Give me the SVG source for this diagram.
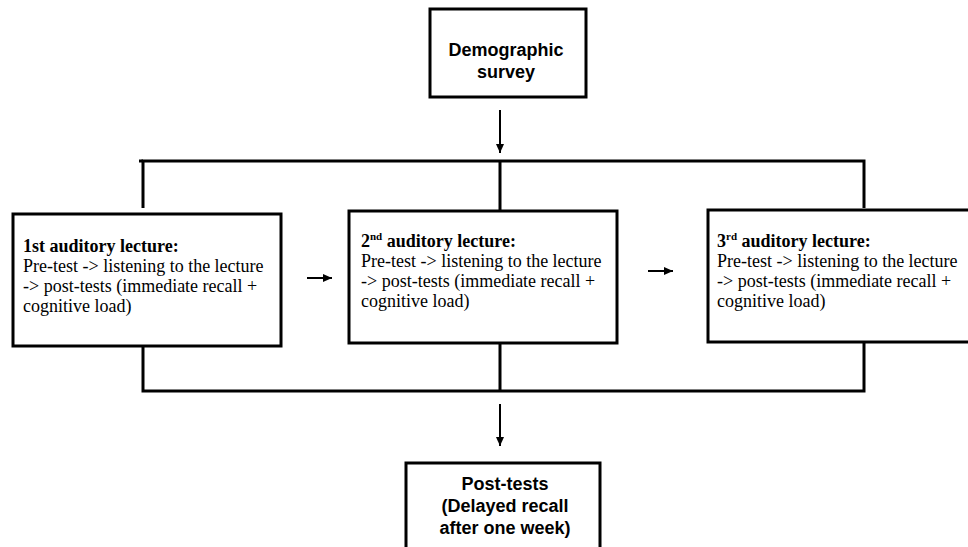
<svg xmlns="http://www.w3.org/2000/svg" width="968" height="547" viewBox="0 0 968 547">
<style>
.box{fill:#fff;stroke:#000;stroke-width:3}
.ln{stroke:#000;stroke-width:3;fill:none}
.ar{stroke:#000;stroke-width:2;fill:none}
.hd{font-family:"Liberation Sans",Arial,sans-serif;font-weight:bold;font-size:18px;fill:#000;text-anchor:middle}
.tm{font-family:"Liberation Serif","Times New Roman",serif;font-size:18px;fill:#000}
.b{font-weight:bold}
.sup{font-size:11px;font-weight:bold}
</style>
<defs>
<marker id="ah" markerWidth="10" markerHeight="10" refX="9" refY="5" orient="auto" markerUnits="userSpaceOnUse">
<path d="M0,1 L9,5 L0,9 Z" fill="#000"/>
</marker>
</defs>
<rect width="968" height="547" fill="#fff"/>
<g id="connectors">
<line class="ar" x1="500" y1="110" x2="500" y2="153" marker-end="url(#ah)"/>
<polyline class="ln" points="143,208 143,161 864,161 864,208"/>
<line class="ln" x1="139" y1="161" x2="143" y2="161"/>
<line class="ln" x1="500" y1="161" x2="500" y2="211"/>
<polyline class="ln" points="143,346 143,391 864,391 864,342"/>
<line class="ln" x1="500" y1="343" x2="500" y2="391"/>
<line class="ar" x1="500" y1="404" x2="500" y2="446" marker-end="url(#ah)"/>
<line class="ar" x1="307" y1="278" x2="332" y2="278" marker-end="url(#ah)"/>
<line class="ar" x1="648" y1="271" x2="673" y2="271" marker-end="url(#ah)"/>
</g>
<g id="demographic">
<rect class="box" x="430" y="9" width="156" height="88"/>
<text class="hd" x="506" y="56">Demographic</text>
<text class="hd" x="506" y="78">survey</text>
</g>
<g id="lecture1">
<rect class="box" x="13" y="214" width="268" height="132"/>
<text class="tm" x="23" y="252"><tspan class="b">1st auditory lecture:</tspan><tspan x="23" y="272">Pre-test -&gt; listening to the lecture</tspan><tspan x="23" y="292">-&gt; post-tests (immediate recall +</tspan><tspan x="23" y="312">cognitive load)</tspan></text>
</g>
<g id="lecture2">
<rect class="box" x="349" y="211" width="268" height="132"/>
<text class="tm" x="361" y="247"><tspan class="b">2</tspan><tspan class="sup" dy="-7">nd</tspan><tspan class="b" dy="7"> auditory lecture:</tspan><tspan x="361" y="267">Pre-test -&gt; listening to the lecture</tspan><tspan x="361" y="287">-&gt; post-tests (immediate recall +</tspan><tspan x="361" y="307">cognitive load)</tspan></text>
</g>
<g id="lecture3">
<rect class="box" x="708" y="210" width="270" height="132"/>
<text class="tm" x="717" y="247"><tspan class="b">3</tspan><tspan class="sup" dy="-7">rd</tspan><tspan class="b" dy="7"> auditory lecture:</tspan><tspan x="717" y="267">Pre-test -&gt; listening to the lecture</tspan><tspan x="717" y="287">-&gt; post-tests (immediate recall +</tspan><tspan x="717" y="307">cognitive load)</tspan></text>
</g>
<g id="posttests">
<rect class="box" x="406" y="463" width="194" height="100"/>
<text class="hd" x="505" y="490">Post-tests</text>
<text class="hd" x="505" y="512">(Delayed recall</text>
<text class="hd" x="505" y="534">after one week)</text>
</g>
</svg>
